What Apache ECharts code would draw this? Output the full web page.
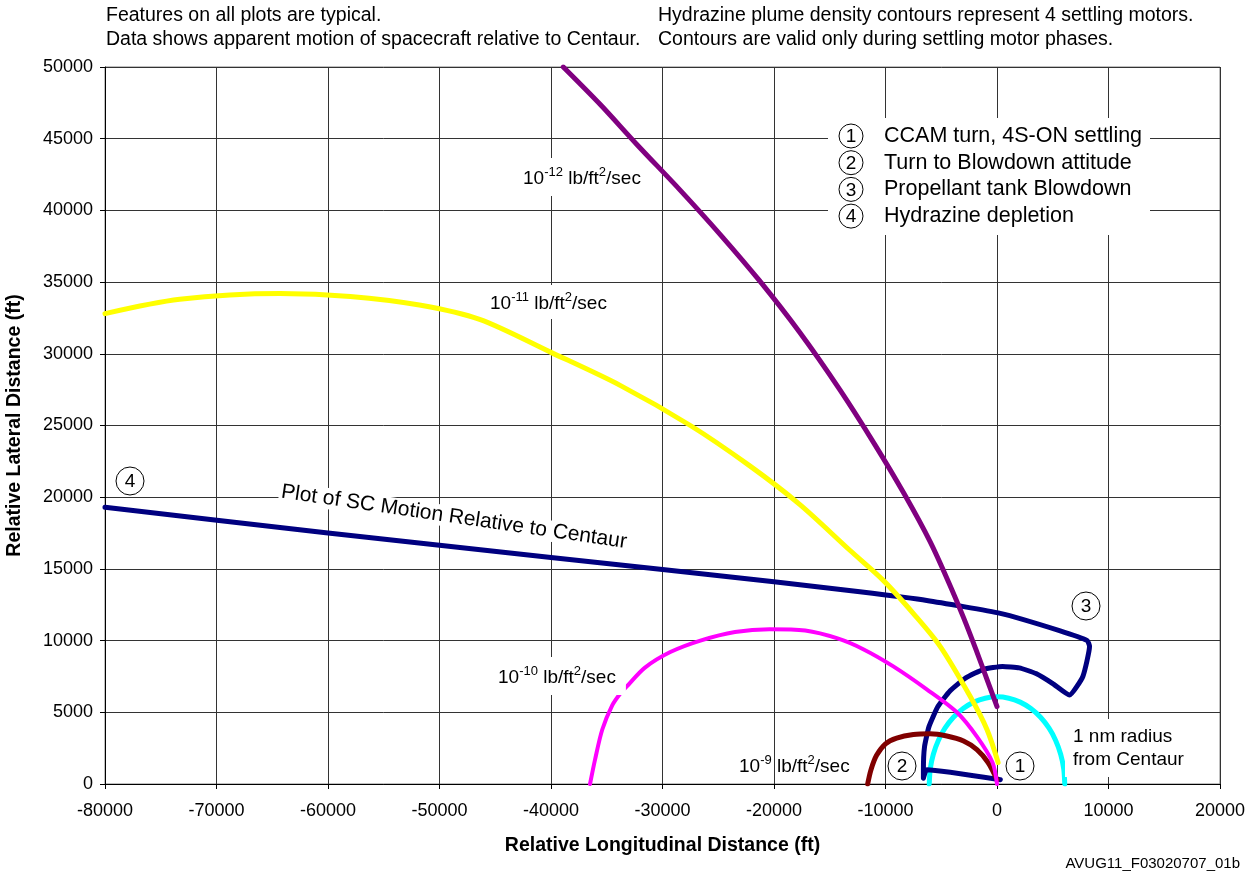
<!DOCTYPE html>
<html><head><meta charset="utf-8">
<script src="https://cdn.jsdelivr.net/npm/echarts@6/dist/echarts.min.js"></script>
<style>html,body{margin:0;padding:0;background:#fff}#c{width:1260px;height:875px}</style>
</head><body><div id="c"></div>
<script>
const FONT = '"Liberation Sans", Arial, sans-serif';
const xTicks = { min: -80000, max: 20000, interval: 10000 };
const yTicks = { min: 0, max: 50000, interval: 5000 };

// 10^-12 lb/ft2/sec contour
const contour12 = [[-38900,50000],[-35600,47400],[-32300,44600],[-28400,41400],[-24800,38300],[-21300,35100],[-17700,31500],[-14100,27500],[-10900,23600],[-8300,20200],[-6000,16900],[-4300,14000],[-3000,11600],[-1900,9400],[-900,7300],[0,5400]];
// 10^-11 lb/ft2/sec contour
const contour11 = [[-80000,32800],[-73300,33800],[-64300,34200],[-58000,34000],[-51800,33400],[-46400,32400],[-40000,30100],[-33800,27800],[-27500,25000],[-22200,22200],[-17700,19500],[-13200,16300],[-10200,14200],[-7400,11800],[-5100,9600],[-2400,6100],[-900,3800],[100,1500]];
// 10^-10 lb/ft2/sec contour
const contour10 = [[-36500,0],[-36050,1700],[-35400,3800],[-34500,5500],[-33800,6300],[-33200,6800],[-31600,8100],[-29300,9200],[-26600,10000],[-23500,10600],[-20400,10800],[-17200,10700],[-14300,10150],[-12000,9400],[-9300,8200],[-6300,6600],[-3600,5000],[-1800,3300],[-400,1500],[0,0]];
// 10^-9 lb/ft2/sec contour
const contour9 = [[-11600,0],[-11300,1000],[-10800,2000],[-10000,2800],[-9000,3200],[-7500,3450],[-6000,3500],[-4500,3350],[-3000,3000],[-1800,2400],[-800,1500],[0,300]];
// 1 nm radius from Centaur
const nmRadius = [[-6076,0],[-5984,1055],[-5710,2078],[-5262,3038],[-4654,3906],[-3906,4654],[-3038,5262],[-2078,5710],[-1055,5984],[0,6076],[1055,5984],[2078,5710],[3038,5262],[3906,4654],[4654,3906],[5262,3038],[5710,2078],[5984,1055],[6076,0]];
// SC motion relative to Centaur (in time order: 1 -> 2 -> 3 -> 4)
const scMotion = [[300,300],[-6300,1000],[-6600,400],[-6600,1000],[-6500,2600],[-6100,4000],[-5300,5400],[-4200,6500],[-2800,7400],[-1200,8000],[500,8200],[2000,8100],[3500,7700],[5000,7000],[6500,6200],[7700,7500],[8300,9600],[8100,10000],[5600,10700],[300,11900],[-6300,12800],[-12300,13400],[-20000,14100],[-40000,15800],[-60000,17500],[-80000,19300]];

const legendItems = ['CCAM turn, 4S-ON settling','Turn to Blowdown attitude','Propellant tank Blowdown','Hydrazine depletion'];
const headerLeft = ['Features on all plots are typical.','Data shows apparent motion of spacecraft relative to Centaur.'];
const headerRight = ['Hydrazine plume density contours represent 4 settling motors.','Contours are valid only during settling motor phases.'];

function line(name, data, color, width, smooth, z) {
  return { name, type: 'line', data, showSymbol: false, symbol: 'none', smooth: smooth === true ? 0.3 : (smooth || false),
    lineStyle: { color, width, cap: 'round', join: 'round' }, z: z, animation: false };
}
function txt(x, y, text, size, opts) {
  return Object.assign({ type: 'text', x, y, z: 100, style: Object.assign({ text, fill: '#000', font: size + 'px ' + FONT, verticalAlign: 'middle', align: 'left' }, opts || {}) });
}
function circled(cx, cy, r, n, size) {
  return [
    { type: 'circle', shape: { cx, cy, r }, style: { fill: '#fff', stroke: '#000', lineWidth: 1 }, z: 101 },
    { type: 'text', x: cx, y: cy + 1, z: 102, style: { text: String(n), font: size + 'px ' + FONT, fill: '#000', align: 'center', verticalAlign: 'middle' } }
  ];
}
function supLabel(x, y, exp, pad) {
  return { type: 'text', x, y, z: 100, style: {
    text: '{a|10}{s|' + exp + '}{a| lb/ft}{s|2}{a|/sec}',
    align: 'left', verticalAlign: 'middle',
    backgroundColor: pad ? '#fff' : 'transparent', padding: pad || 0,
    rich: { a: { font: '19px ' + FONT, fill: '#000', lineHeight: 22, verticalAlign: 'bottom' },
            s: { font: '13px ' + FONT, fill: '#000', lineHeight: 22, verticalAlign: 'top' } } } };
}

const chart = echarts.init(document.getElementById('c'), null, { renderer: 'canvas' });
const graphics = [];
headerLeft.forEach((t, i) => graphics.push(txt(106, 16 + i * 24, t, 19.5)));
headerRight.forEach((t, i) => graphics.push(txt(658, 16 + i * 24, t, 19.5)));
graphics.push({ type: 'text', x: 1240, y: 864, z: 100, style: { text: 'AVUG11_F03020707_01b', font: '15px ' + FONT, fill: '#000', align: 'right', verticalAlign: 'middle' } });
// legend box
graphics.push({ type: 'rect', shape: { x: 828, y: 118, width: 322, height: 117 }, style: { fill: '#fff' }, z: 99 });
legendItems.forEach((t, i) => {
  const cy = 136 + i * 26.7;
  graphics.push(...circled(851, cy, 12, i + 1, 19));
  graphics.push(txt(884, cy, t, 21.5));
});
// plot labels
graphics.push(supLabel(515, 177, '-12', [8, 2, 8, 8]));
graphics.push(supLabel(486, 302, '-11', [6, 4, 6, 4]));
graphics.push(supLabel(490, 676, '-10', [8, 10, 8, 8]));
graphics.push(supLabel(739, 765, '-9', null));
graphics.push({ type: 'text', x: 1065, y: 748, z: 100, style: { text: '1 nm radius\nfrom Centaur', font: '19px ' + FONT, fill: '#000', align: 'left', verticalAlign: 'middle', lineHeight: 23, backgroundColor: '#fff', padding: [6, 18, 6, 8] } });
graphics.push({ type: 'text', x: 454, y: 517, rotation: -0.145, z: 100, style: { text: 'Plot of SC Motion Relative to Centaur', font: '21px ' + FONT, fill: '#000', align: 'center', verticalAlign: 'middle', backgroundColor: '#fff', padding: [0, 2] } });
graphics.push(...circled(1020, 766, 14, 1, 19));
graphics.push(...circled(902, 766, 14, 2, 19));
graphics.push(...circled(1086, 606, 14, 3, 19));
graphics.push(...circled(130, 481, 14, 4, 19));

const axisLabel = { color: '#000', fontSize: 18, fontFamily: FONT, formatter: v => String(v) };
chart.setOption({
  animation: false,
  grid: { left: 105, right: 40, top: 67, bottom: 91, containLabel: false, outerBoundsMode: 'none', show: true, borderColor: '#808080', borderWidth: 1, backgroundColor: 'transparent' },
  xAxis: { type: 'value', min: xTicks.min, max: xTicks.max, interval: xTicks.interval,
    name: 'Relative Longitudinal Distance (ft)', nameLocation: 'middle', nameGap: 52,
    nameTextStyle: { color: '#000', fontSize: 19.5, fontWeight: 'bold', fontFamily: FONT },
    axisLine: { onZero: false, lineStyle: { color: '#000', width: 1 } },
    axisTick: { show: true, length: 5, inside: false, lineStyle: { color: '#000' } },
    axisLabel: Object.assign({ margin: 18 }, axisLabel),
    splitLine: { show: true, lineStyle: { color: '#333', width: 1 } } },
  yAxis: { type: 'value', min: yTicks.min, max: yTicks.max, interval: yTicks.interval,
    name: 'Relative Lateral Distance (ft)', nameLocation: 'middle', nameGap: 80,
    nameTextStyle: { color: '#000', fontSize: 19.5, fontWeight: 'bold', fontFamily: FONT },
    axisLine: { show: true, onZero: false, lineStyle: { color: '#000', width: 1 } },
    axisTick: { show: true, length: 5, inside: false, lineStyle: { color: '#000' } },
    axisLabel: Object.assign({ margin: 12 }, axisLabel),
    splitLine: { show: true, lineStyle: { color: '#333', width: 1 } } },
  series: [
    line('1 nm radius', nmRadius, '#00FFFF', 5, true, 2),
    line('SC motion', scMotion, '#000080', 5, 0.15, 3),
    line('1e-9', contour9, '#800000', 5, true, 4),
    line('1e-10', contour10, '#FF00FF', 4, true, 5),
    line('1e-11', contour11, '#FFFF00', 5, true, 6),
    line('1e-12', contour12, '#800080', 5, true, 7)
  ],
  graphic: graphics
});
</script></body></html>
